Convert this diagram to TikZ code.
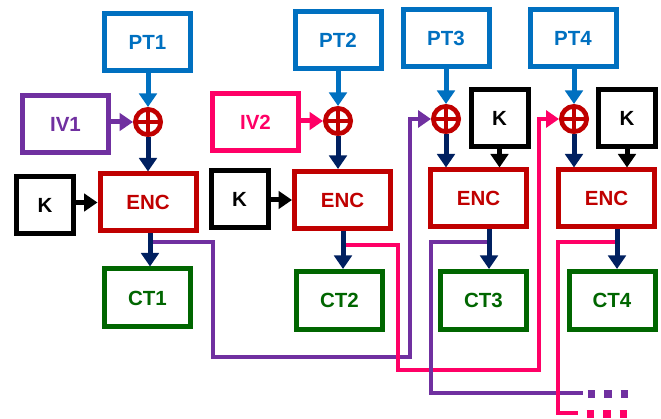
\documentclass[tikz,border=0pt]{standalone}
\usepackage{fontspec}
\setmainfont{Liberation Sans}
\usetikzlibrary{arrows.meta}
\definecolor{ptblue}{HTML}{0070C0}
\definecolor{ivpurple}{HTML}{7030A0}
\definecolor{ivpink}{HTML}{FF0066}
\definecolor{encred}{HTML}{C00000}
\definecolor{ctgreen}{HTML}{006600}
\definecolor{navy}{HTML}{002060}
\begin{document}
\begin{tikzpicture}[x=1pt,y=-1pt,
  box/.style={draw,rectangle,line width=5pt,inner sep=0pt,fill=white,
    font=\bfseries\fontsize{20.5}{21}\selectfont},
  ptbox/.style={box,draw=ptblue,text=ptblue,minimum width=86pt,minimum height=57pt},
  ivbox/.style={box,minimum width=86pt,minimum height=57pt},
  kbox/.style={box,draw=black,text=black,minimum width=57pt,minimum height=56.5pt},
  encbox/.style={box,draw=encred,text=encred,minimum width=96pt,minimum height=57pt},
  ctbox/.style={box,draw=ctgreen,text=ctgreen,minimum width=86pt,minimum height=58pt},
  xorop/.style={circle,draw=encred,line width=4.7pt,fill=white,minimum size=25.3pt,inner sep=0pt,
    path picture={\draw[encred,line width=4pt]
      (path picture bounding box.north) -- (path picture bounding box.south)
      (path picture bounding box.west) -- (path picture bounding box.east);}},
  arr/.style={line width=5pt,-{Triangle[width=17.5pt,length=13.5pt]}},
  larr/.style={line width=4.3pt,-{Triangle[width=17pt,length=13pt]}},
  link/.style={line width=4.3pt},
  dots/.style={line width=7.5pt,dash pattern=on 7.5pt off 9pt}]
\useasboundingbox (0,0) rectangle (661,419);

% plaintext blocks
\node[ptbox] (pt1) at (147.5,42) {PT1};
\node[ptbox] (pt2) at (338,40) {PT2};
\node[ptbox] (pt3) at (446,38) {PT3};
\node[ptbox] (pt4) at (573,38) {PT4};

% initialisation vectors
\node[ivbox,draw=ivpurple,text=ivpurple] (iv1) at (65.5,124) {IV1};
\node[ivbox,draw=ivpink,text=ivpink] (iv2) at (255.5,122.5) {IV2};

% XOR operators
\node[xorop] (x1) at (148,122) {};
\node[xorop] (x2) at (338,121) {};
\node[xorop] (x3) at (446,119) {};
\node[xorop] (x4) at (574,119) {};

% keys
\node[kbox] (k1) at (45,205) {K};
\node[kbox] (k2) at (239.5,199) {K};
\node[kbox] (k3) at (499.5,118) {K};
\node[kbox] (k4) at (627,118) {K};

% encryption blocks
\node[encbox] (e1) at (148,202.5) {ENC};
\node[encbox] (e2) at (342.5,200) {ENC};
\node[encbox] (e3) at (478.5,198.5) {ENC};
\node[encbox] (e4) at (606.5,198.5) {ENC};

% ciphertext blocks
\node[ctbox] (c1) at (147.5,298) {CT1};
\node[ctbox] (c2) at (339.5,300.5) {CT2};
\node[ctbox] (c3) at (483.5,300.5) {CT3};
\node[ctbox] (c4) at (612,300.5) {CT4};

% output columns and taps for the chaining lines
\coordinate (t1) at (150,0);
\coordinate (t2) at (343,0);
\coordinate (t3) at (489,0);
\coordinate (t4) at (617,0);
\coordinate (tap1) at (150,242);
\coordinate (tap2) at (343,245);
\coordinate (tap3) at (489,242);
\coordinate (tap4) at (617,242);
\coordinate (up1) at (410,0);
\coordinate (up2) at (539,0);
\coordinate (end3) at (583,393);
\coordinate (end4) at (578,413);

% chaining of ciphertexts into later stages
\draw[larr,ivpurple] (tap1) -- (213,242) -- (213,357) -- (410,357) -- (x3.west -| up1) -- (x3.west);
\draw[larr,ivpink] (tap2) -- (398,245) -- (398,370) -- (539,370) -- (x4.west -| up2) -- (x4.west);
\draw[link,ivpurple] (tap3) -- (431,242) -- (431,393) -- (end3);
\draw[dots,ivpurple] ([xshift=4.5pt,yshift=-1pt]end3) -- ++(41,0);
\draw[link,ivpink] (tap4) -- (558,242) -- (558,413) -- (end4);
\draw[dots,ivpink] ([xshift=8.5pt,yshift=-1pt]end4) -- ++(41,0);

% plaintext into XOR, XOR into encryption
\foreach \i in {1,...,4}{
  \draw[arr,ptblue] (pt\i.south -| x\i) -- (x\i.north);
  \draw[arr,navy] (x\i.south) -- (x\i.south |- e\i.north);
}

% IV into XOR
\draw[arr,ivpurple] (x1.west -| iv1.east) -- (x1.west);
\draw[arr,ivpink] (x2.west -| iv2.east) -- (x2.west);

% keys into encryption
\draw[arr,black,line cap=round] (e1.west -| k1.east) -- (e1.west);
\draw[arr,black,line cap=round] (e2.west -| k2.east) -- (e2.west);
\draw[arr,black] (k3.south) -- (k3.south |- e3.north);
\draw[arr,black] (k4.south) -- (k4.south |- e4.north);

% encryption output to ciphertext
\draw[arr,navy] (e1.south -| t1) -- (c1.north -| t1);
\draw[arr,navy] (e2.south -| t2) -- (c2.north -| t2);
\draw[arr,navy] (e3.south -| t3) -- (c3.north -| t3);
\draw[arr,navy] (e4.south -| t4) -- (c4.north -| t4);
\end{tikzpicture}
\end{document}
